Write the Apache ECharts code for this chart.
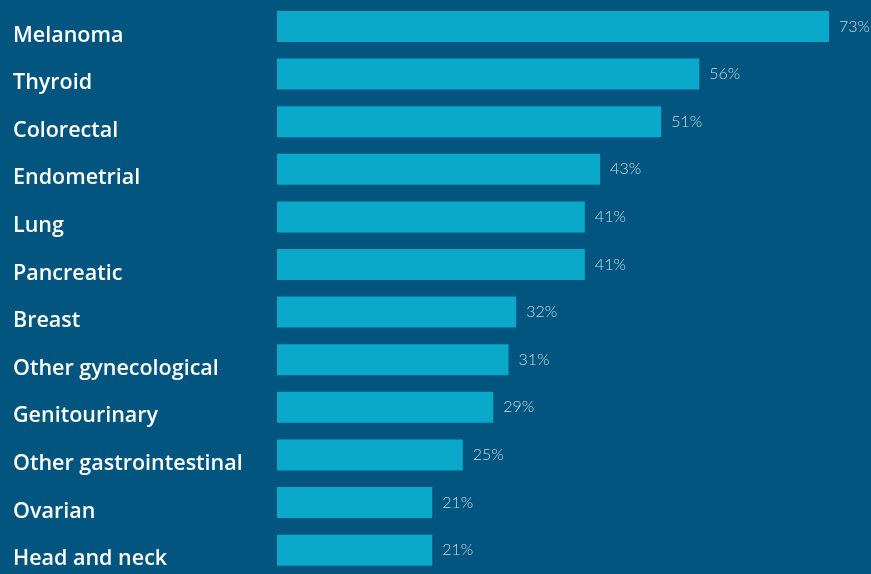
<!DOCTYPE html>
<html>
<head>
<meta charset="utf-8">
<script src="https://cdn.jsdelivr.net/npm/echarts@6/dist/echarts.min.js"></script>
<style>
html,body{margin:0;padding:0;background:#02557f;}
#chart{width:871px;height:574px;}
</style>
</head>
<body>
<div id="chart"></div>
<script>
const categories = ["Melanoma","Thyroid","Colorectal","Endometrial","Lung","Pancreatic","Breast","Other gynecological","Genitourinary","Other gastrointestinal","Ovarian","Head and neck"];
const values = [73,56,51,43,41,41,32,31,29,25,21,21];

const chart = echarts.init(document.getElementById('chart'));
chart.setOption({
  backgroundColor: '#02557f',
  animation: false,
  grid: {left: 277, right: 0, top: 2.6, height: 573.8, containLabel: false},
  xAxis: {
    type: 'value', min: 0.655, max: 78.5, show: false
  },
  yAxis: {
    type: 'category', data: categories, inverse: true,
    axisLine: {show: false}, axisTick: {show: false}, splitLine: {show: false},
    axisLabel: {
      align: 'left', margin: 264,
      formatter: v => '{a|' + v + '}',
      rich: {
        a: {
          color: '#ffffff', fontFamily: 'Open Sans', fontSize: 21.5, fontWeight: 600,
          padding: [18, 0, 0, 0]
        }
      }
    }
  },
  series: [{
    type: 'bar', data: values, barWidth: 31, clip: true,
    itemStyle: {color: '#0aa8c9'},
    label: {
      show: true, position: 'right', distance: 10,
      formatter: p => p.value + '%',
      color: '#c9d9e4', fontFamily: 'Lato', fontSize: 16, fontWeight: 300
    }
  }]
});
</script>
</body>
</html>
